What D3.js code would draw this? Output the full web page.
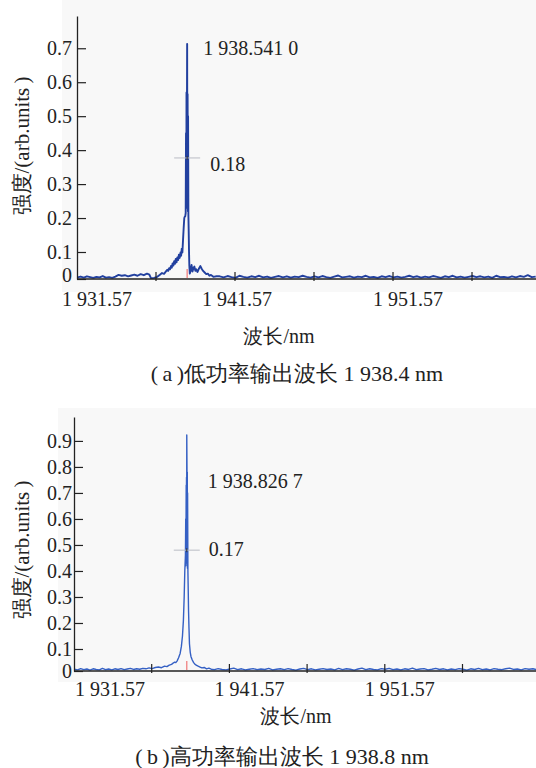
<!DOCTYPE html>
<html>
<head>
<meta charset="utf-8">
<script src="https://cdn.jsdelivr.net/npm/d3@7"></script>
<style>
  html, body { margin: 0; padding: 0; background: #ffffff; }
  svg { display: block; }
  svg text { font-family: "Liberation Serif", "DejaVu Serif", serif; }
</style>
</head>
<body>
<svg id="fig" width="536" height="768"></svg>
<script>
// ---------------------------------------------------------------------------
// Spectra: [wavelength (nm), intensity (arb. units)]
// ---------------------------------------------------------------------------

// (a) low power output
const spectrumLow = [
  [1931.60,0.006],[1931.80,0.009],[1932.00,0.005],[1932.20,0.010],[1932.40,0.007],
  [1932.60,0.004],[1932.80,0.008],[1933.00,0.006],[1933.20,0.011],[1933.40,0.005],
  [1933.60,0.007],[1933.80,0.004],[1934.00,0.009],[1934.20,0.015],[1934.40,0.012],
  [1934.60,0.014],[1934.80,0.010],[1935.00,0.013],[1935.20,0.016],[1935.40,0.012],
  [1935.60,0.018],[1935.80,0.014],[1936.00,0.020],[1936.15,0.016],[1936.25,0.003],
  [1936.45,0.004],[1936.65,0.008],[1936.80,0.015],[1936.95,0.022],[1937.08,0.019],
  [1937.20,0.028],[1937.28,0.034],[1937.34,0.030],[1937.40,0.040],[1937.46,0.036],
  [1937.52,0.048],[1937.57,0.042],[1937.62,0.058],[1937.67,0.050],[1937.72,0.066],
  [1937.77,0.056],[1937.82,0.074],[1937.87,0.062],[1937.92,0.080],[1937.97,0.070],
  [1938.02,0.090],[1938.07,0.078],[1938.12,0.098],[1938.16,0.086],[1938.20,0.110],
  [1938.24,0.098],[1938.28,0.135],[1938.32,0.170],[1938.36,0.200],
  [1938.40,0.205],[1938.42,0.205],[1938.45,0.215],[1938.47,0.450],[1938.49,0.230],
  [1938.50,0.570],[1938.52,0.260],[1938.53,0.550],[1938.541,0.713],[1938.55,0.420],
  [1938.57,0.565],[1938.59,0.220],[1938.60,0.500],[1938.62,0.210],[1938.64,0.160],
  [1938.66,0.100],[1938.68,0.050],[1938.71,0.020],[1938.76,0.030],[1938.82,0.052],
  [1938.88,0.028],[1938.94,0.040],[1939.00,0.046],[1939.06,0.030],[1939.12,0.036],
  [1939.20,0.026],[1939.30,0.040],[1939.38,0.048],[1939.46,0.038],[1939.55,0.030],
  [1939.65,0.024],[1939.75,0.018],[1939.85,0.020],[1939.95,0.012],[1940.05,0.015],
  [1940.20,0.008],[1940.40,0.010],
  [1940.60,0.010],[1940.85,0.006],[1941.10,0.011],[1941.35,0.007],[1941.60,0.004],
  [1941.85,0.012],[1942.10,0.008],[1942.35,0.005],[1942.60,0.010],[1942.85,0.007],
  [1943.10,0.012],[1943.35,0.006],[1943.60,0.009],[1943.85,0.004],[1944.10,0.008],
  [1944.35,0.011],[1944.60,0.006],[1944.85,0.010],[1945.10,0.005],[1945.35,0.009],
  [1945.60,0.007],[1945.85,0.012],[1946.10,0.008],[1946.35,0.005],[1946.60,0.010],
  [1946.85,0.006],[1947.10,0.011],[1947.35,0.007],[1947.60,0.004],[1947.85,0.009],
  [1948.10,0.013],[1948.35,0.006],[1948.60,0.008],[1948.85,0.010],[1949.10,0.005],
  [1949.35,0.009],[1949.60,0.007],[1949.85,0.012],[1950.10,0.006],[1950.35,0.008],
  [1950.60,0.004],[1950.85,0.010],[1951.10,0.007],[1951.35,0.011],[1951.60,0.006],
  [1951.85,0.009],[1952.10,0.005],[1952.35,0.008],[1952.60,0.012],[1952.85,0.007],
  [1953.10,0.010],[1953.35,0.005],[1953.60,0.009],[1953.85,0.006],[1954.10,0.011],
  [1954.35,0.008],[1954.60,0.004],[1954.85,0.010],[1955.10,0.007],[1955.35,0.012],
  [1955.60,0.006],[1955.85,0.009],[1956.10,0.005],[1956.35,0.008],[1956.60,0.011],
  [1956.85,0.007],[1957.10,0.010],[1957.35,0.006],[1957.60,0.009],[1957.85,0.004],
  [1958.10,0.012],[1958.35,0.007],[1958.60,0.008],[1958.85,0.005],[1959.10,0.010],
  [1959.35,0.006],[1959.60,0.011],[1959.85,0.008],[1960.10,0.014],[1960.35,0.007],
  [1960.60,0.009]
];

// (b) high power output
const spectrumHigh = [
  [1931.60,0.008],[1931.80,0.005],[1932.00,0.011],[1932.20,0.006],[1932.40,0.009],
  [1932.60,0.004],[1932.80,0.010],[1933.00,0.007],[1933.20,0.005],[1933.40,0.012],
  [1933.60,0.006],[1933.80,0.009],[1934.00,0.005],[1934.20,0.010],[1934.40,0.007],
  [1934.60,0.011],[1934.80,0.006],[1935.00,0.009],[1935.20,0.012],[1935.40,0.007],
  [1935.60,0.010],[1935.80,0.008],[1936.00,0.012],[1936.20,0.010],[1936.40,0.014],
  [1936.60,0.011],[1936.80,0.016],[1937.00,0.018],[1937.20,0.015],[1937.40,0.022],
  [1937.55,0.020],[1937.70,0.027],[1937.85,0.030],[1937.95,0.036],[1938.05,0.040],
  [1938.12,0.038],[1938.20,0.045],[1938.30,0.060],[1938.40,0.080],[1938.48,0.110],
  [1938.55,0.150],[1938.61,0.210],[1938.66,0.300],[1938.70,0.400],[1938.74,0.460],
  [1938.76,0.600],[1938.77,0.420],[1938.79,0.730],[1938.80,0.430],[1938.81,0.760],
  [1938.82,0.450],[1938.8267,0.923],[1938.84,0.800],[1938.85,0.600],[1938.86,0.780],
  [1938.87,0.410],[1938.88,0.700],[1938.90,0.400],[1938.92,0.330],[1938.94,0.250],
  [1938.97,0.180],[1939.00,0.120],[1939.05,0.085],[1939.10,0.065],[1939.18,0.050],
  [1939.27,0.038],[1939.36,0.030],[1939.46,0.026],[1939.56,0.022],[1939.68,0.018],
  [1939.80,0.014],[1939.95,0.016],[1940.10,0.010],[1940.25,0.013],[1940.40,0.008],
  [1940.60,0.006],[1940.85,0.011],[1941.10,0.007],[1941.35,0.005],[1941.60,0.009],
  [1941.85,0.013],[1942.10,0.006],[1942.35,0.010],[1942.60,0.005],[1942.85,0.008],
  [1943.10,0.011],[1943.35,0.006],[1943.60,0.009],[1943.85,0.007],[1944.10,0.012],
  [1944.35,0.005],[1944.60,0.008],[1944.85,0.010],[1945.10,0.006],[1945.35,0.011],
  [1945.60,0.007],[1945.85,0.004],[1946.10,0.009],[1946.35,0.012],[1946.60,0.006],
  [1946.85,0.010],[1947.10,0.005],[1947.35,0.008],[1947.60,0.011],[1947.85,0.007],
  [1948.10,0.009],[1948.35,0.005],[1948.60,0.012],[1948.85,0.006],[1949.10,0.010],
  [1949.35,0.008],[1949.60,0.004],[1949.85,0.009],[1950.10,0.013],[1950.35,0.006],
  [1950.60,0.010],[1950.85,0.007],[1951.10,0.005],[1951.35,0.011],[1951.60,0.008],
  [1951.85,0.012],[1952.10,0.006],[1952.35,0.009],[1952.60,0.005],[1952.85,0.010],
  [1953.10,0.007],[1953.35,0.013],[1953.60,0.006],[1953.85,0.009],[1954.10,0.011],
  [1954.35,0.005],[1954.60,0.008],[1954.85,0.012],[1955.10,0.007],[1955.35,0.010],
  [1955.60,0.005],[1955.85,0.009],[1956.10,0.006],[1956.35,0.011],[1956.60,0.008],
  [1956.85,0.004],[1957.10,0.010],[1957.35,0.007],[1957.60,0.012],[1957.85,0.006],
  [1958.10,0.009],[1958.35,0.005],[1958.60,0.011],[1958.85,0.008],[1959.10,0.006],
  [1959.35,0.010],[1959.60,0.013],[1959.85,0.007],[1960.10,0.009],[1960.35,0.005],
  [1960.60,0.011],[1960.85,0.008],[1961.10,0.010],[1961.35,0.006]
];

// Peak wavelength and 3 dB linewidth read out by the analyser
const peakLow = 1938.5410;
const peakHigh = 1938.8267;
const widthLow = 0.18;
const widthHigh = 0.17;
const peakLabelLow = "1 938.541 0";
const peakLabelHigh = "1 938.826 7";

// Axis ticks
const xTickValues = [1931.57, 1936.57, 1941.57, 1946.57, 1951.57, 1956.57];
const xLabelValues = [1931.57, 1941.57, 1951.57];
const xLabelText = ["1 931.57", "1 941.57", "1 951.57"];
const yTicksLow = [0, 0.1, 0.2, 0.3, 0.4, 0.5, 0.6, 0.7];
const yTicksHigh = [0, 0.1, 0.2, 0.3, 0.4, 0.5, 0.6, 0.7, 0.8, 0.9];

// Texts
const yTitle = "强度/(arb.units\u2009)";
const xTitle = "波长/nm";
const captionLow = "(\u2009a\u2009)低功率输出波长 1 938.4 nm";
const captionHigh = "(\u2009b\u2009)高功率输出波长 1 938.8 nm";

// ---------------------------------------------------------------------------
const FONT = '"Liberation Serif", "DejaVu Serif", serif';
const svg = d3.select("#fig");
const defs = svg.append("defs");

function fmtY(d) { return d === 0 ? "0" : d.toFixed(1); }

function styleText(sel, size) {
  return sel.style("font-family", FONT).style("font-size", (size || 20) + "px").attr("fill", "#222");
}

function drawPanel(o) {
  const g = svg.append("g");

  // light panel behind the plot
  g.append("rect")
    .attr("x", o.panel[0]).attr("y", o.panel[1])
    .attr("width", o.panel[2]).attr("height", o.panel[3])
    .attr("fill", "#f8f8f8");

  const x = d3.scaleLinear().domain([1931.57, o.xEnd]).range([o.left, o.right]);
  // the bottom division is slightly compressed on the analyser display
  const y = d3.scaleLinear().domain([0, 0.1, o.yTop]).range([o.bottom, o.y01, o.top]);

  const clipId = "clip-" + o.id;
  defs.append("clipPath").attr("id", clipId)
    .append("rect")
    .attr("x", o.left).attr("y", o.top - 5)
    .attr("width", o.right - o.left).attr("height", o.bottom - o.top + 5);

  // spectrum trace
  const line = d3.line().x(d => x(d[0])).y(d => y(d[1]));
  g.append("path")
    .datum(o.data)
    .attr("clip-path", `url(#${clipId})`)
    .attr("d", line)
    .attr("fill", "none")
    .attr("stroke", o.color)
    .attr("stroke-width", o.strokeW)
    .attr("stroke-linejoin", "round");

  // peak marker on the baseline
  const px = x(o.peak);
  g.append("line")
    .attr("x1", px).attr("x2", px)
    .attr("y1", o.bottom - 1).attr("y2", o.bottom - 10)
    .attr("stroke", "#f08080").attr("stroke-width", 1.3);

  // half-maximum cross
  const hy = y(o.halfLevel);
  g.append("line")
    .attr("x1", px - 13).attr("x2", px + 13)
    .attr("y1", hy).attr("y2", hy)
    .attr("stroke", "#b9bcc4").attr("stroke-width", 1);
  g.append("line")
    .attr("x1", px).attr("x2", px)
    .attr("y1", hy - 2).attr("y2", hy + 2)
    .attr("stroke", "#333").attr("stroke-width", 1);

  // annotations
  styleText(g.append("text")
    .attr("x", px + o.peakLabelDx).attr("y", y(o.peakLabelLevel))
    .attr("dy", "0.35em"))
    .text(o.peakLabel);
  styleText(g.append("text")
    .attr("x", px + o.widthLabelDx).attr("y", hy + o.widthLabelDy)
    .attr("dy", "0.35em"))
    .text(o.width.toFixed(2));

  // y axis
  const yAxis = d3.axisLeft(y)
    .tickValues(o.yTicks)
    .tickFormat(fmtY)
    .tickSizeInner(-9)
    .tickSizeOuter(0)
    .tickPadding(o.yPad);
  const ya = g.append("g")
    .attr("transform", `translate(${o.left},0)`)
    .call(yAxis);
  ya.attr("font-family", null).attr("font-size", null);
  ya.select(".domain").attr("stroke", "#222").attr("stroke-width", 1.3);
  ya.selectAll(".tick line").attr("stroke", "#222").attr("stroke-width", 1.2);
  styleText(ya.selectAll(".tick text"));
  ya.selectAll(".tick text").filter(d => d === 0).attr("y", o.zeroLabelDy);

  // x axis baseline and division marks
  g.append("line")
    .attr("x1", o.left).attr("x2", o.right)
    .attr("y1", o.bottom).attr("y2", o.bottom)
    .attr("stroke", "#222").attr("stroke-width", 1.4);
  g.selectAll(null)
    .data(xTickValues.filter(v => v > 1931.57 && x(v) < o.right))
    .join("line")
    .attr("x1", d => x(d)).attr("x2", d => x(d))
    .attr("y1", o.bottom + 2).attr("y2", o.bottom - 7)
    .attr("stroke", "#222").attr("stroke-width", 1.2);

  styleText(g.selectAll(null)
    .data(xLabelValues)
    .join("text")
    .attr("x", (d, i) => x(d) + o.xLabelNudge[i])
    .attr("y", o.bottom + o.xLabelDy)
    .attr("text-anchor", "middle")
    .attr("dy", "0.35em"))
    .text((d, i) => xLabelText[i]);

  // axis titles
  styleText(g.append("text")
    .attr("transform", `translate(${o.yTitlePos[0]},${o.yTitlePos[1]}) rotate(-90)`)
    .attr("text-anchor", "middle").attr("dy", "0.35em"), 21)
    .text(yTitle);
  styleText(g.append("text")
    .attr("x", o.xTitlePos[0]).attr("y", o.xTitlePos[1])
    .attr("text-anchor", "middle").attr("dy", "0.35em"))
    .text(xTitle);
  styleText(g.append("text")
    .attr("x", o.captionPos[0]).attr("y", o.captionPos[1])
    .attr("text-anchor", "middle").attr("dy", "0.35em"), 22)
    .text(o.caption);
}

drawPanel({
  id: "low",
  data: spectrumLow,
  color: "#22409f", strokeW: 1.9,
  panel: [62, 0, 474, 292],
  left: 77, right: 536, xEnd: 1960.62,
  top: 16, y01: 252, bottom: 279, yTop: 0.795,
  yTicks: yTicksLow, yPad: 5, zeroLabelDy: -4,
  peak: peakLow, halfLevel: 0.377, width: widthLow,
  peakLabel: peakLabelLow, peakLabelLevel: 0.70, peakLabelDx: 16,
  widthLabelDx: 23, widthLabelDy: 6,
  xLabelNudge: [20, 2, 15], xLabelDy: 20,
  yTitlePos: [22, 146], xTitlePos: [279, 336],
  caption: captionLow, captionPos: [297, 373]
});

drawPanel({
  id: "high",
  data: spectrumHigh,
  color: "#3560c4", strokeW: 1.4,
  panel: [58, 408, 478, 274],
  left: 74, right: 536, xEnd: 1961.30,
  top: 417, y01: 649, bottom: 671, yTop: 0.992,
  yTicks: yTicksHigh, yPad: 2, zeroLabelDy: 0,
  peak: peakHigh, halfLevel: 0.48, width: widthHigh,
  peakLabel: peakLabelHigh, peakLabelLevel: 0.745, peakLabelDx: 21,
  widthLabelDx: 22, widthLabelDy: -1,
  xLabelNudge: [36, 20, 15], xLabelDy: 18,
  yTitlePos: [22, 550], xTitlePos: [296, 716],
  caption: captionHigh, captionPos: [282, 756]
});
</script>
</body>
</html>
